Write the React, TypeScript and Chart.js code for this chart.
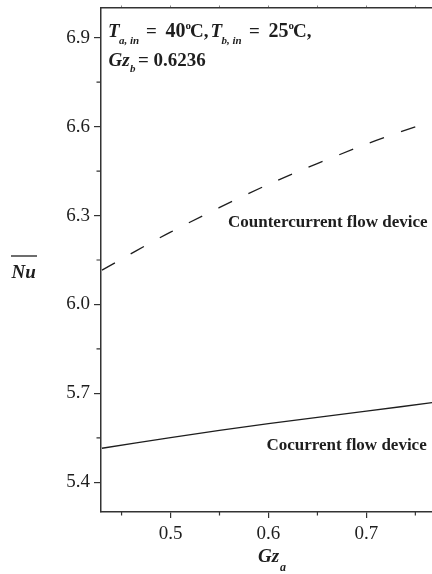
import { useEffect, useRef } from "react";
import { Chart, registerables } from "chart.js";

Chart.register(...registerables);

// Gz_a positions along the x axis
const gzA = [0.43, 0.5, 0.6, 0.7, 0.77];
// Mean Nusselt number, countercurrent flow device (dashed)
const nuCounter = [6.116, 6.244, 6.405, 6.541, 6.622];
// Mean Nusselt number, cocurrent flow device (solid)
const nuCo = [5.515, 5.551, 5.598, 5.64, 5.67];

const xMajorTicks = [0.5, 0.6, 0.7];
const xMinorTicks = [0.45, 0.55, 0.65, 0.75];
const yMajorTicks = [5.4, 5.7, 6.0, 6.3, 6.6, 6.9];
const yMinorTicks = [5.55, 5.85, 6.15, 6.45, 6.75];

const X_MIN = 0.429;
const X_MAX = 0.767;
const Y_MIN = 5.3;
const Y_MAX = 7.0;

const SERIF = '"Liberation Serif", "Times New Roman", serif';
const AXIS_COLOR = "#333";
const INK = "#1e1e1e";

const minorTickPlugin = {
  id: "minorTicks",
  afterDraw(chart: any) {
    const { ctx, chartArea } = chart;
    const xs = chart.scales.x;
    const ys = chart.scales.y;
    ctx.save();
    ctx.strokeStyle = AXIS_COLOR;
    ctx.lineWidth = 1.2;
    ctx.beginPath();
    for (const v of xMinorTicks) {
      const px = xs.getPixelForValue(v);
      ctx.moveTo(px, chartArea.bottom);
      ctx.lineTo(px, chartArea.bottom + 3.5);
    }
    for (const v of yMinorTicks) {
      const py = ys.getPixelForValue(v);
      ctx.moveTo(chartArea.left, py);
      ctx.lineTo(chartArea.left - 4.5, py);
    }
    ctx.stroke();
    ctx.restore();
  },
};

function drawText(
  ctx: CanvasRenderingContext2D,
  text: string,
  x: number,
  y: number,
  font: string,
  align: CanvasTextAlign = "left"
) {
  ctx.font = font;
  ctx.textAlign = align;
  ctx.fillText(text, x, y);
}

const labelsPlugin = {
  id: "textLabels",
  afterDraw(chart: any) {
    const ctx: CanvasRenderingContext2D = chart.ctx;
    ctx.save();
    ctx.fillStyle = INK;
    ctx.textBaseline = "alphabetic";

    const big = `bold 19px ${SERIF}`;
    const num = `bold 20px ${SERIF}`;
    const bigIt = `italic bold 19px ${SERIF}`;
    const subIt = `italic bold 11px ${SERIF}`;
    const sup = `bold 11px ${SERIF}`;

    // operating conditions, line 1
    drawText(ctx, "T", 108, 37, bigIt);
    drawText(ctx, "a, in", 119, 44, subIt);
    drawText(ctx, "=", 146, 37, big);
    drawText(ctx, "40", 185.5, 37, num, "right");
    drawText(ctx, "o", 185.5, 29, sup);
    drawText(ctx, "C,", 190, 37, big);
    drawText(ctx, "T", 210.5, 37, bigIt);
    drawText(ctx, "b, in", 221.5, 44, subIt);
    drawText(ctx, "=", 249, 37, big);
    drawText(ctx, "25", 288.5, 37, num, "right");
    drawText(ctx, "o", 288.5, 29, sup);
    drawText(ctx, "C,", 293, 37, big);

    // operating conditions, line 2
    drawText(ctx, "Gz", 108.5, 66, bigIt);
    drawText(ctx, "b", 130, 72, subIt);
    drawText(ctx, "= 0.6236", 138, 66, big);

    // curve labels
    drawText(ctx, "Countercurrent flow device", 228, 227, `bold 17px ${SERIF}`);
    drawText(ctx, "Cocurrent flow device", 266.5, 450, `bold 17px ${SERIF}`);

    // y axis title: mean Nusselt number
    drawText(ctx, "Nu", 11.5, 278, bigIt);
    ctx.strokeStyle = INK;
    ctx.lineWidth = 1.3;
    ctx.beginPath();
    ctx.moveTo(11, 256);
    ctx.lineTo(37, 256);
    ctx.stroke();

    // x axis title
    drawText(ctx, "Gz", 258, 562, bigIt);
    drawText(ctx, "a", 280, 571, `italic bold 12px ${SERIF}`);

    ctx.restore();
  },
};

function noPadding(scale: any) {
  scale.paddingTop = 0;
  scale.paddingBottom = 0;
  scale.paddingLeft = 0;
  scale.paddingRight = 0;
}

export default function App() {
  const canvasRef = useRef<HTMLCanvasElement | null>(null);

  useEffect(() => {
    const canvas = canvasRef.current;
    if (!canvas) return;

    const chart = new Chart(canvas, {
      type: "line",
      data: {
        datasets: [
          {
            label: "Countercurrent flow device",
            data: gzA.map((g, i) => ({ x: g, y: nuCounter[i] })),
            borderColor: INK,
            borderWidth: 1.3,
            borderDash: [15, 18],
            pointRadius: 0,
            tension: 0.3,
          },
          {
            label: "Cocurrent flow device",
            data: gzA.map((g, i) => ({ x: g, y: nuCo[i] })),
            borderColor: INK,
            borderWidth: 1.3,
            pointRadius: 0,
            tension: 0.3,
          },
        ],
      },
      options: {
        animation: false,
        responsive: true,
        maintainAspectRatio: false,
        layout: { padding: 0 },
        plugins: {
          legend: { display: false },
          tooltip: { enabled: false },
          title: { display: false },
        },
        scales: {
          x: {
            type: "linear",
            position: "bottom",
            min: X_MIN,
            max: X_MAX,
            afterBuildTicks: (scale: any) => {
              scale.ticks = xMajorTicks.map((v) => ({ value: v }));
            },
            afterFit: (scale: any) => {
              scale.height = 62;
              noPadding(scale);
            },
            ticks: {
              color: INK,
              font: { family: SERIF, size: 19 },
              padding: 5,
              maxRotation: 0,
              callback: (v: any) => Number(v).toFixed(1),
            },
            grid: {
              drawOnChartArea: false,
              drawTicks: true,
              tickLength: 6,
              color: AXIS_COLOR,
              lineWidth: 1.2,
            },
            border: { display: true, color: AXIS_COLOR, width: 1.5 },
          },
          xTop: {
            type: "linear",
            position: "top",
            min: X_MIN,
            max: X_MAX,
            afterBuildTicks: (scale: any) => {
              scale.ticks = [...xMajorTicks, ...xMinorTicks]
                .sort((a, b) => a - b)
                .map((v) => ({ value: v }));
            },
            afterFit: (scale: any) => {
              scale.height = 8;
              noPadding(scale);
            },
            ticks: { display: false },
            grid: {
              drawOnChartArea: false,
              drawTicks: true,
              tickLength: 2.5,
              color: "#888",
              lineWidth: 1,
            },
            border: { display: true, color: AXIS_COLOR, width: 1.5 },
          },
          y: {
            type: "linear",
            position: "left",
            min: Y_MIN,
            max: Y_MAX,
            afterBuildTicks: (scale: any) => {
              scale.ticks = yMajorTicks.map((v) => ({ value: v }));
            },
            afterFit: (scale: any) => {
              scale.width = 101;
              noPadding(scale);
            },
            ticks: {
              color: INK,
              font: { family: SERIF, size: 19 },
              padding: 4,
              callback: (v: any) => Number(v).toFixed(1),
            },
            grid: {
              drawOnChartArea: false,
              drawTicks: true,
              tickLength: 7,
              color: AXIS_COLOR,
              lineWidth: 1.2,
            },
            border: { display: true, color: AXIS_COLOR, width: 1.5 },
          },
        },
      },
      plugins: [minorTickPlugin, labelsPlugin],
    } as any);

    return () => chart.destroy();
  }, []);

  return (
    <div
      style={{
        position: "absolute",
        left: 0,
        top: 0,
        width: "432px",
        height: "574px",
        background: "#fff",
      }}
    >
      <canvas ref={canvasRef} />
    </div>
  );
}
